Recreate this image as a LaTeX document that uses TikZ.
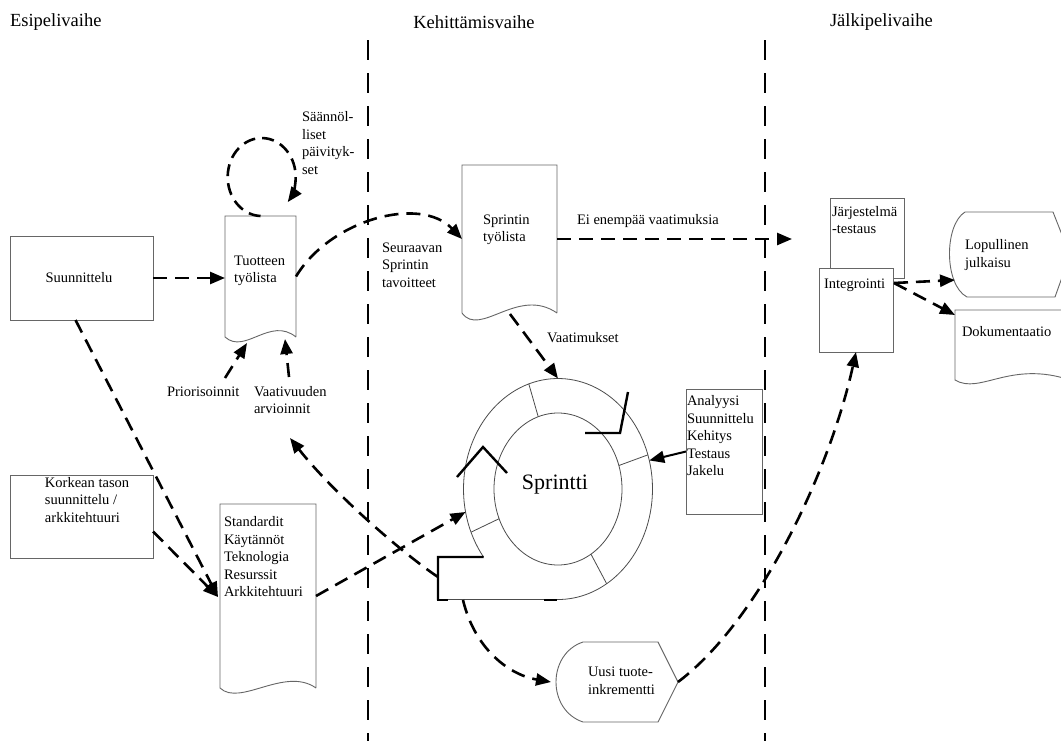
\documentclass[tikz,border=0pt]{standalone}
\usepackage{fontspec}
\setmainfont{Liberation Serif}
\usetikzlibrary{arrows.meta,calc}

\begin{document}
\begin{tikzpicture}[x=1pt,y=-1pt,
  every node/.style={font=\fontsize{14.5}{17.5}\selectfont, inner sep=0pt, outer sep=0pt, align=left},
  flow/.style={line width=2.6pt, dash pattern=on 14pt off 8pt, -{Triangle[length=15pt,width=12pt]}},
  phase/.style={line width=2.6pt, dash pattern=on 20pt off 13pt},
  outline/.style={draw=black!60, line width=0.9pt},
  box/.style={outline, fill=white, anchor=north west},
  frame/.style={anchor=north west},
  heading/.style={font=\fontsize{18.5}{22}\selectfont},
  thickmark/.style={line width=2.4pt},
  ring/.style={draw=black!70, line width=0.8pt}
]
\clip (0,0) rectangle (1061,740);
\fill[white] (0,0) rectangle (1061,740);

% ---- phase headings ----
\node[heading, anchor=west] (h1) at (10,22) {Esipelivaihe};
\node[heading] (h2) at (474,22) {Kehittämisvaihe};
\node[heading, anchor=west] (h3) at (830,22) {Jälkipelivaihe};

% ---- phase borders ----
\coordinate (b1t) at (368,40); \coordinate (b1b) at (368,745);
\coordinate (b2t) at (765,40); \coordinate (b2b) at (765,745);
\draw[phase] (b1t) -- (b1b);
\draw[phase] (b2t) -- (b2b);

% ---- pre-game ----
\node[box, minimum width=143, minimum height=84] (suun) at (10,236) {};
\node (suunt) at (79,278) {Suunnittelu};

\node[box, minimum width=143, minimum height=83] (kork) at (10,475) {};
\node[anchor=west] (korkt) at (45,500) {Korkean tason\\suunnittelu /\\arkkitehtuuri};

% product backlog (document shape)
\node[frame, minimum width=71, minimum height=121] (tuote) at (225,216) {};
\draw[outline, fill=white] (tuote.south east) -- (tuote.north east) -- (tuote.north west) -- (tuote.south west)
  .. controls (245,355) and (270,316) .. (tuote.south east);
\node[anchor=west] (tuotet) at (234,271) {Tuotteen\\työlista};

% standards (document shape)
\node[frame, minimum width=96, minimum height=184] (std) at (220,504) {};
\draw[outline, fill=white] (std.south east) -- (std.north east) -- (std.north west) -- (std.south west)
  .. controls (240,707) and (285,666) .. (std.south east);
\node[anchor=west] (stdt) at (224,557) {Standardit\\Käytännöt\\Teknologia\\Resurssit\\Arkkitehtuuri};

% regular updates loop
\draw[flow, dash pattern=on 12pt off 7pt] (tuote.north) arc[start angle=92, end angle=400, x radius=34, y radius=39];
\node[anchor=west] (saan) at (302,143) {Säännöl-\\liset\\päivityk-\\set};

% labels under the backlog
\node[anchor=west] (prio) at (167,392) {Priorisoinnit};
\node[anchor=west] (vaat) at (254,400) {Vaativuuden\\arvioinnit};
\coordinate (priotail) at (225,378); \coordinate (priotip) at (247,343);
\coordinate (vaattail) at (289,377); \coordinate (vaattip) at (285,339);
\draw[flow] (priotail) -- (priotip);
\draw[flow] (vaattail) -- (vaattip);

% ---- development ----
\node[frame, minimum width=95, minimum height=148] (sprint) at (462,165) {};
\draw[outline, fill=white] (sprint.south east) -- (sprint.north east) -- (sprint.north west) -- (sprint.south west)
  .. controls (480,338) and (518,286) .. (sprint.south east);
\node[anchor=west] (sprintt) at (483,230) {Sprintin\\työlista};
\node[anchor=west] (seur) at (382,265) {Seuraavan\\Sprintin\\tavoitteet};
\node[anchor=west] (eivaat) at (577,221) {Ei enempää vaatimuksia};
\node[anchor=west] (vaatim) at (547,338) {Vaatimukset};

% sprint cycle
\coordinate (sc) at (558,489);
\draw[ring] (sc) ellipse[x radius=64, y radius=76];
\draw[ring] ($(sc)+(142:94.5 and 110.5)$) arc[start angle=142, end angle=450, x radius=94.5, y radius=110.5]
  -- (438,599.5);
\foreach \a in {252,342,59,157}
  \draw[ring] ($(sc)+(\a:64 and 76)$) -- ($(sc)+(\a:94.5 and 110.5)$);
\draw[thickmark] (438,600) -- (438,557) -- ($(sc)+(142:94.5 and 110.5)$);
\draw[thickmark] (437,600) -- (448,600);
\draw[thickmark] (544,600) -- (557,600);
\draw[thickmark] (457,477) -- (483,447) -- (507,473);
\draw[thickmark] (585,433) -- (620,433) -- (628,392);
\node[font=\fontsize{22}{26}\selectfont] (spr) at (555,485) {Sprintti};

\coordinate (sprtop) at ($(sc)+(270:94.5 and 110.5)$);
\coordinate (sprright) at ($(sc)+(345:94.5 and 110.5)$);
\coordinate (sprleft) at ($(sc)+(168:94.5 and 110.5)$);
\coordinate (sprcorner) at (438,577);
\coordinate (sprbot) at (463,600);
\coordinate (sprw) at (510,314);

% activities
\node[box, minimum width=76, minimum height=125] (ana) at (686,389) {};
\node[anchor=west] (anat) at (687,436) {Analyysi\\Suunnittelu\\Kehitys\\Testaus\\Jakelu};

% new increment
\node[frame, minimum width=127, minimum height=80] (uusi) at (551,642) {};
\draw[outline] (583,642) -- (658,642) -- (uusi.east) -- (658,722) -- (583,722)
  .. controls (547,710) and (547,654) .. cycle;
\node[anchor=west] (uusit) at (588,681) {Uusi tuote-\\inkrementti};

% ---- post-game ----
\node[box, minimum width=74, minimum height=80] (jarj) at (830,198) {};
\node[anchor=west] (jarjt) at (832,220) {Järjestelmä\\-testaus};
\node[box, minimum width=74, minimum height=84] (integ) at (819,268) {};
\node[anchor=west] (integt) at (824,285) {Integrointi};

\node[frame, minimum width=120, minimum height=85] (lop) at (950,212) {};
\draw[outline] (965,212) -- (1053,212) -- (1070,255) -- (1055,297) -- (967,297)
  .. controls (944,285) and (944,225) .. cycle;
\node[anchor=west] (lopt) at (965,255) {Lopullinen\\julkaisu};

\node[frame, minimum width=115, minimum height=70] (doku) at (955,310) {};
\draw[outline, fill=white] (doku.south east) -- (doku.north east) -- (doku.north west) -- (doku.south west)
  .. controls (980,395) and (1010,360) .. (1070,380);
\node[anchor=west] (dokut) at (962,332) {Dokumentaatio};

\coordinate (eiend) at (792,239);
\coordinate (intout) at (894,283);
\coordinate (lopin) at (955,280);
\coordinate (dokin) at (955,315);

% ---- connectors ----
\draw[flow] (suun.east) -- (suun.east -| tuote.west);
\draw[flow] (tuote.east) .. controls (330,220) and (420,195) .. (sprint.west);
\draw[flow] (sprint.east) -- (eiend);
\draw[flow] (sprw) -- (sprtop);
\draw[line width=2pt, -{Triangle[length=15pt,width=12pt]}] (ana.west) -- (sprright);
\draw[flow] ($(suun.south)+(-6,0)$) -- (218,597);
\draw[flow] ($(kork.east)+(0,15)$) -- (218,597);
\draw[flow] (std.east) -- (sprleft);
\draw[flow] (sprcorner) .. controls (405,555) and (335,495) .. (290,438);
\draw[flow] (sprbot) .. controls (475,650) and (510,675) .. (uusi.west);
\draw[flow] (uusi.east) .. controls (760,620) and (830,470) .. (integ.south);
\draw[flow] (intout) -- (lopin);
\draw[flow] (intout) -- (dokin);
\end{tikzpicture}
\end{document}
